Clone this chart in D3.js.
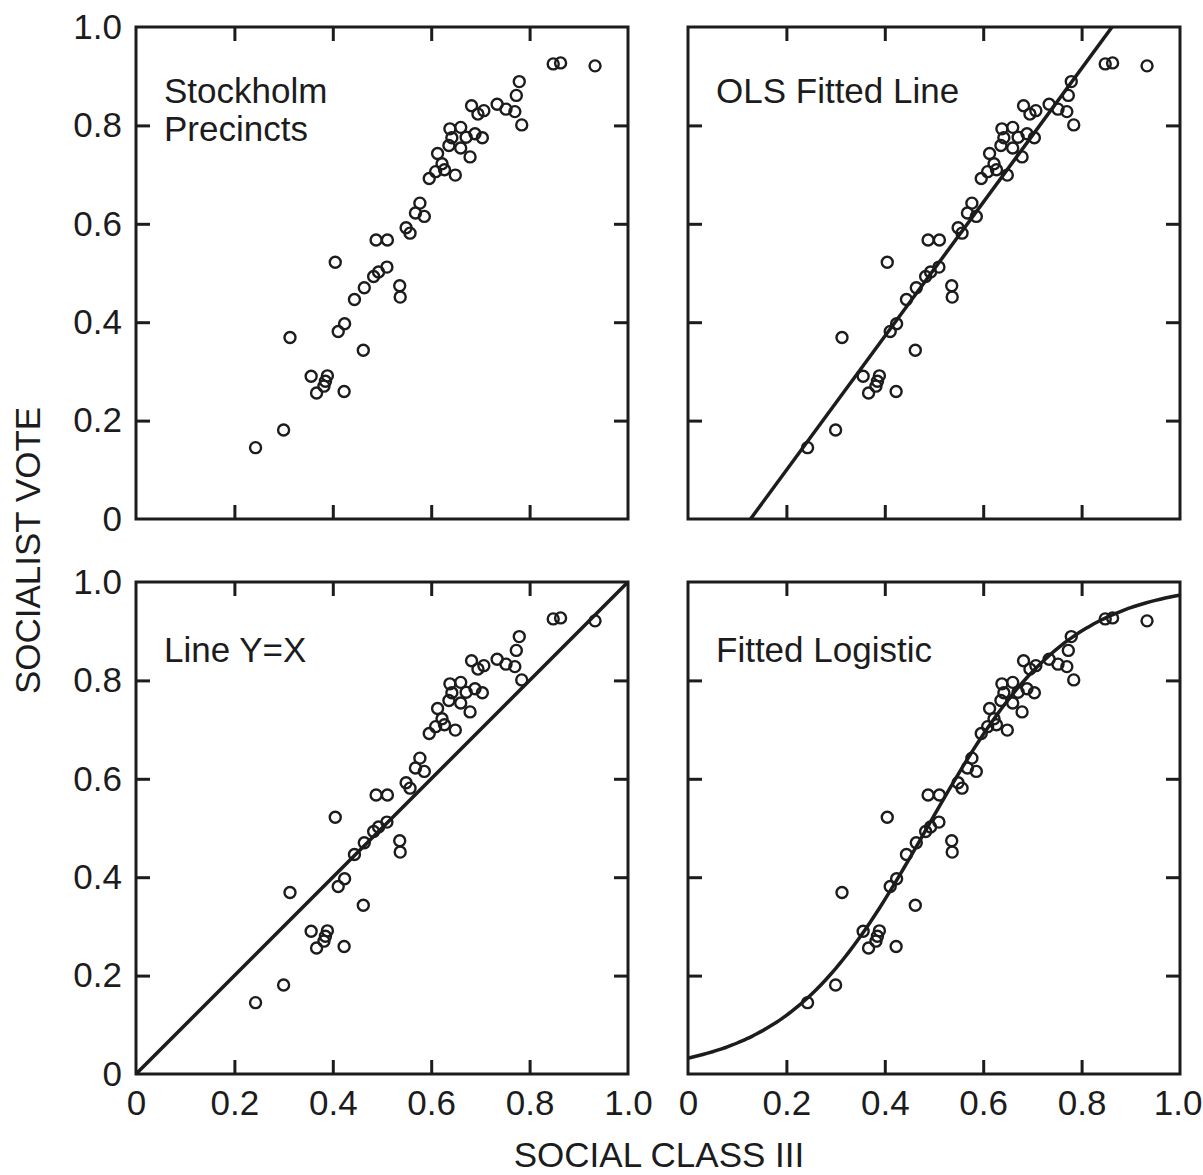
<!DOCTYPE html>
<html>
<head>
<meta charset="utf-8">
<script src="https://cdn.jsdelivr.net/npm/d3@7"></script>
<style>
  html, body { margin: 0; padding: 0; background: #fff; }
  svg { display: block; }
  text { font-family: "Liberation Sans", Arial, sans-serif; fill: #1c1c1c; }
</style>
</head>
<body>
<script>
// ---- data ----
const socialClass = [0.243,0.300,0.313,0.356,0.367,0.382,0.385,0.389,0.423,0.405,
  0.411,0.424,0.462,0.444,0.464,0.483,0.493,0.510,0.488,0.511,
  0.536,0.537,0.549,0.557,0.568,0.577,0.586,0.596,0.609,0.613,
  0.622,0.627,0.649,0.638,0.660,0.642,0.636,0.660,0.671,0.679,
  0.689,0.704,0.682,0.695,0.707,0.734,0.752,0.770,0.773,0.779,
  0.784,0.848,0.863,0.933];
const socialistVote = [0.145,0.181,0.369,0.290,0.256,0.270,0.280,0.291,0.259,0.522,
  0.381,0.397,0.343,0.446,0.470,0.493,0.502,0.512,0.567,0.567,
  0.474,0.451,0.592,0.581,0.622,0.642,0.615,0.692,0.706,0.743,
  0.722,0.710,0.699,0.793,0.796,0.775,0.759,0.754,0.776,0.736,
  0.783,0.775,0.840,0.823,0.830,0.843,0.833,0.828,0.861,0.889,
  0.801,0.925,0.927,0.921];

const panelTitles = [["Stockholm", "Precincts"], ["OLS Fitted Line"], ["Line Y=X"], ["Fitted Logistic"]];
const fitKinds = ["none", "ols", "identity", "logistic"];
const tickLabelValues = [0, 0.2, 0.4, 0.6, 0.8, 1.0];
const innerTickValues = [0.2, 0.4, 0.6, 0.8];
const olsIntercept = -0.173, olsSlope = 1.361;
const logitIntercept = -3.4, logitSlope = 7.0;
const yAxisTitle = "SOCIALIST VOTE";
const xAxisTitle = "SOCIAL CLASS III";

// ---- layout ----
const W = 1203, H = 1175;
const ink = "#1c1c1c";
const panelSize = 492;
const colX = [136, 688];
const rowY = [27, 582];
const fontSize = 35;

const svg = d3.select("body").append("svg").attr("width", W).attr("height", H);
const defs = svg.append("defs");

const fmt = d => d === 0 ? "0" : d.toFixed(1);

fitKinds.forEach((kind, i) => {
  const col = i % 2, row = Math.floor(i / 2);
  const x0 = colX[col], y0 = rowY[row];
  const x = d3.scaleLinear().domain([0, 1]).range([0, panelSize]);
  const y = d3.scaleLinear().domain([0, 1]).range([panelSize, 0]);
  const g = svg.append("g").attr("transform", `translate(${x0},${y0})`);

  const clipId = "clip" + i;
  defs.append("clipPath").attr("id", clipId)
    .append("rect").attr("width", panelSize).attr("height", panelSize);

  // inward tick marks on all four sides
  const tickAxes = [
    [d3.axisBottom(x), `translate(0,${panelSize})`],
    [d3.axisTop(x), `translate(0,0)`],
    [d3.axisLeft(y), `translate(0,0)`],
    [d3.axisRight(y), `translate(${panelSize},0)`]
  ];
  tickAxes.forEach(([ax, tr]) => {
    const a = g.append("g").attr("transform", tr)
      .call(ax.tickValues(innerTickValues).tickSize(-14).tickFormat(""));
    a.select(".domain").remove();
    a.selectAll("line").attr("stroke", ink).attr("stroke-width", 3);
  });

  // tick labels
  if (col === 0) {
    const a = g.append("g")
      .call(d3.axisLeft(y).tickValues(tickLabelValues).tickSize(0).tickPadding(14).tickFormat(fmt));
    a.select(".domain").remove();
    a.selectAll("text").attr("font-size", fontSize).attr("font-family", null).attr("fill", ink);
  }
  if (row === 1) {
    const a = g.append("g").attr("transform", `translate(0,${panelSize})`)
      .call(d3.axisBottom(x).tickValues(tickLabelValues).tickSize(0).tickPadding(16).tickFormat(fmt));
    a.select(".domain").remove();
    a.selectAll("text").attr("font-size", fontSize).attr("font-family", null).attr("fill", ink);
    if (col === 1) {
      a.selectAll(".tick").filter(d => d === 1).select("text").attr("text-anchor", "end").attr("dx", 22);
    }
  }

  // fitted lines
  const lineGen = d3.line().x(d => x(d[0])).y(d => y(d[1]));
  let fitPts = null;
  if (kind === "ols") fitPts = [[0, olsIntercept], [1, olsIntercept + olsSlope]];
  if (kind === "identity") fitPts = [[0, 0], [1, 1]];
  if (kind === "logistic") {
    fitPts = d3.range(0, 101).map(k => {
      const xv = k / 100;
      return [xv, 1 / (1 + Math.exp(-(logitIntercept + logitSlope * xv)))];
    });
    lineGen.curve(d3.curveBasis);
  }
  if (fitPts) {
    g.append("path").attr("clip-path", `url(#${clipId})`)
      .attr("d", lineGen(fitPts))
      .attr("fill", "none").attr("stroke", ink).attr("stroke-width", 3.5);
  }

  // points
  g.append("g").selectAll("circle").data(socialClass).join("circle")
    .attr("cx", d => x(d))
    .attr("cy", (d, j) => y(socialistVote[j]))
    .attr("r", 5.5)
    .attr("fill", "none").attr("stroke", ink).attr("stroke-width", 2.4);

  // frame
  g.append("rect").attr("width", panelSize).attr("height", panelSize)
    .attr("fill", "none").attr("stroke", ink).attr("stroke-width", 3);

  // panel title
  const t = g.append("text").attr("x", 28).attr("y", row === 0 ? 76 : 80)
    .attr("font-size", fontSize);
  panelTitles[i].forEach((line, k) => {
    t.append("tspan").attr("x", 28).attr("dy", k === 0 ? 0 : 38).text(line);
  });
});

// axis titles
svg.append("text")
  .attr("transform", `translate(40,${(rowY[0] + rowY[1] + panelSize) / 2}) rotate(-90)`)
  .attr("text-anchor", "middle").attr("font-size", fontSize)
  .text(yAxisTitle);
svg.append("text")
  .attr("x", 659).attr("y", 1167)
  .attr("text-anchor", "middle").attr("font-size", fontSize)
  .text(xAxisTitle);
</script>
</body>
</html>
